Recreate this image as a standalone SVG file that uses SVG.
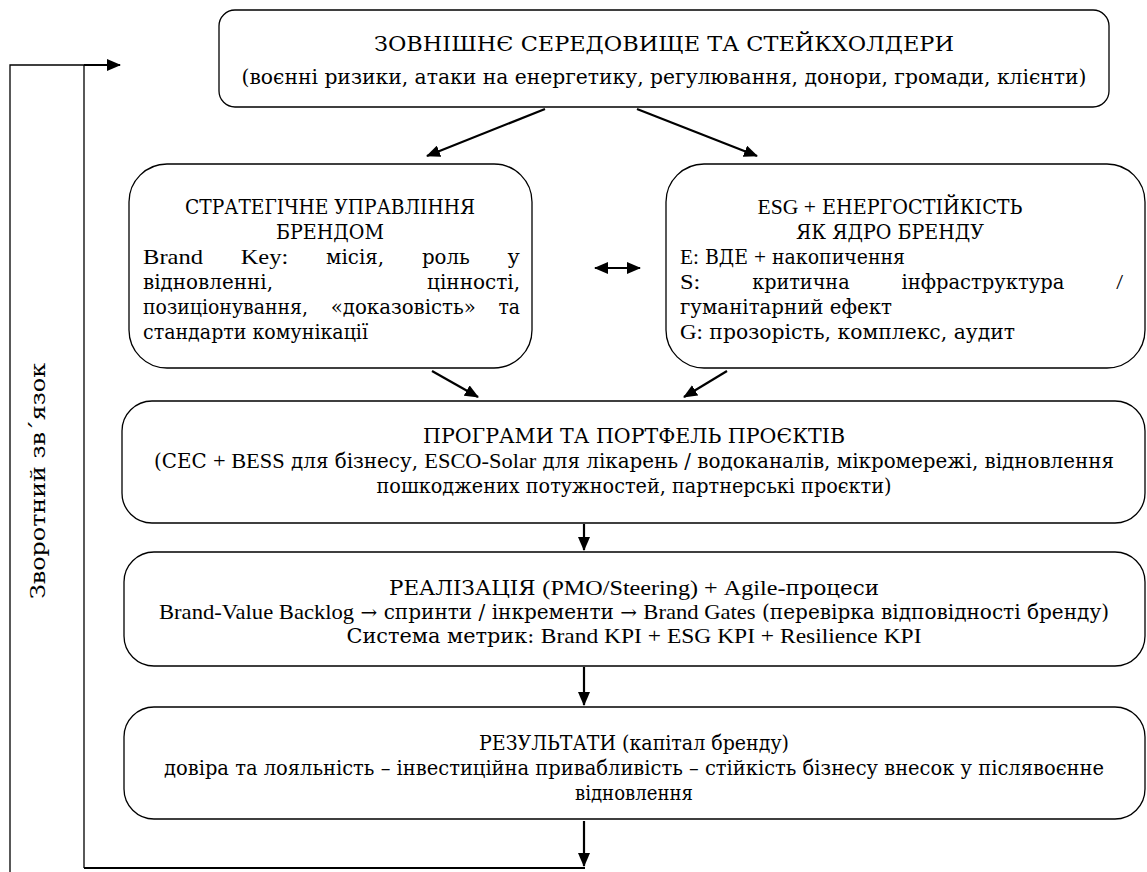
<svg xmlns="http://www.w3.org/2000/svg" width="1147" height="872" viewBox="0 0 1147 872">
<defs>
<marker id="ah" viewBox="0 0 14 12" refX="13" refY="6" markerWidth="14" markerHeight="12" orient="auto-start-reverse" markerUnits="userSpaceOnUse">
<path d="M0,0 L14,6 L0,12 z" fill="#000"/>
</marker>
<style>
.box{fill:#fff;stroke:#000;stroke-width:1.3}
.t{font-family:"DejaVu Serif","Liberation Serif",serif;font-size:19.5px;fill:#000}
.lt{font-family:"Liberation Serif","DejaVu Serif",serif;font-size:22px}
.c{text-anchor:middle}
.ln{stroke:#000;stroke-width:1.3;fill:none}
.ar{stroke:#000;stroke-width:2.2;fill:none;marker-end:url(#ah)}
</style>
</defs>
<rect width="1147" height="872" fill="#fff"/>
<g id="connectors">
<polyline class="ln" points="10,872 10,65 84,65 84,868"/>
<line class="ar" x1="84" y1="65" x2="120" y2="65"/>
<line class="ln" x1="84" y1="868" x2="585" y2="868" style="stroke-width:2.2"/>
<line class="ar" x1="545" y1="109" x2="427" y2="156"/>
<line class="ar" x1="637" y1="109" x2="757" y2="156"/>
<line class="ar" x1="595" y1="268" x2="640" y2="268" style="marker-start:url(#ah)"/>
<line class="ar" x1="432" y1="371" x2="478" y2="397"/>
<line class="ar" x1="727" y1="371" x2="684" y2="397"/>
<line class="ar" x1="584" y1="524" x2="584" y2="550"/>
<line class="ar" x1="584" y1="667" x2="584" y2="705"/>
<line class="ar" x1="584" y1="821" x2="584" y2="866"/>
<text class="t c" style="font-size:21px" transform="translate(45,481) rotate(-90)" textLength="236" lengthAdjust="spacingAndGlyphs">Зворотний зв´язок</text>
</g>
<g id="n1">
<rect class="box" x="219" y="10" width="890" height="97" rx="16"/>
<text class="t c" x="664" y="51" textLength="580" lengthAdjust="spacingAndGlyphs">ЗОВНІШНЄ СЕРЕДОВИЩЕ ТА СТЕЙКХОЛДЕРИ</text>
<text class="t c" x="664" y="84" textLength="845" lengthAdjust="spacingAndGlyphs">(воєнні ризики, атаки на енергетику, регулювання, донори, громади, клієнти)</text>
</g>
<g id="n2">
<rect class="box" x="129" y="164" width="403" height="204" rx="38"/>
<text class="t c" x="330" y="214" textLength="290" lengthAdjust="spacingAndGlyphs">СТРАТЕГІЧНЕ УПРАВЛІННЯ</text>
<text class="t c" x="330" y="239" textLength="108" lengthAdjust="spacingAndGlyphs">БРЕНДОМ</text>
<text class="t lt" x="143" y="264" textLength="60" lengthAdjust="spacingAndGlyphs">Brand</text>
<text class="t lt" x="240.7" y="264" textLength="47.6" lengthAdjust="spacingAndGlyphs">Key:</text>
<text class="t" x="326.1" y="264" textLength="58" lengthAdjust="spacingAndGlyphs">місія,</text>
<text class="t" x="421.9" y="264" textLength="47.9" lengthAdjust="spacingAndGlyphs">роль</text>
<text class="t" x="507.6" y="264" textLength="12.3" lengthAdjust="spacingAndGlyphs">у</text>
<text class="t" x="143" y="289" textLength="130" lengthAdjust="spacingAndGlyphs">відновленні,</text>
<text class="t" x="427.1" y="289" textLength="92.9" lengthAdjust="spacingAndGlyphs">цінності,</text>
<text class="t" x="143" y="314" textLength="165" lengthAdjust="spacingAndGlyphs">позиціонування,</text>
<text class="t" x="330.7" y="314" textLength="145.1" lengthAdjust="spacingAndGlyphs">«доказовість»</text>
<text class="t" x="498.4" y="314" textLength="21.6" lengthAdjust="spacingAndGlyphs">та</text>
<text class="t" x="143" y="339" textLength="225" lengthAdjust="spacingAndGlyphs">стандарти комунікації</text>
</g>
<g id="n3">
<rect class="box" x="666" y="164" width="479" height="204" rx="38"/>
<text class="t c" x="890" y="214" textLength="265" lengthAdjust="spacingAndGlyphs"><tspan class="lt">ESG +</tspan> ЕНЕРГОСТІЙКІСТЬ</text>
<text class="t c" x="890" y="239" textLength="188" lengthAdjust="spacingAndGlyphs">ЯК ЯДРО БРЕНДУ</text>
<text class="t" x="680" y="264" textLength="225" lengthAdjust="spacingAndGlyphs"><tspan class="lt">E:</tspan> ВДЕ <tspan class="lt">+</tspan> накопичення</text>
<text class="t lt" x="680" y="289" textLength="20.4" lengthAdjust="spacingAndGlyphs">S:</text>
<text class="t" x="752.2" y="289" textLength="97.4" lengthAdjust="spacingAndGlyphs">критична</text>
<text class="t" x="901.4" y="289" textLength="163" lengthAdjust="spacingAndGlyphs">інфраструктура</text>
<text class="t lt" x="1116.2" y="289" textLength="6.8" lengthAdjust="spacingAndGlyphs">/</text>
<text class="t" x="680" y="314" textLength="212" lengthAdjust="spacingAndGlyphs">гуманітарний ефект</text>
<text class="t" x="680" y="339" textLength="335" lengthAdjust="spacingAndGlyphs"><tspan class="lt">G:</tspan> прозорість, комплекс, аудит</text>
</g>
<g id="n4">
<rect class="box" x="122" y="401" width="1023" height="122" rx="30"/>
<text class="t c" x="634" y="443" textLength="422" lengthAdjust="spacingAndGlyphs">ПРОГРАМИ ТА ПОРТФЕЛЬ ПРОЄКТІВ</text>
<text class="t c" x="634" y="468" textLength="960" lengthAdjust="spacingAndGlyphs">(СЕС <tspan class="lt">+ BESS</tspan> для бізнесу, <tspan class="lt">ESCO-Solar</tspan> для лікарень / водоканалів, мікромережі, відновлення</text>
<text class="t c" x="634" y="493" textLength="515" lengthAdjust="spacingAndGlyphs">пошкоджених потужностей, партнерські проєкти)</text>
</g>
<g id="n5">
<rect class="box" x="124" y="552" width="1021" height="114" rx="30"/>
<text class="t c" x="634" y="595" textLength="490" lengthAdjust="spacingAndGlyphs">РЕАЛІЗАЦІЯ <tspan class="lt">(PMO/Steering) + Agile-</tspan>процеси</text>
<text class="t c" x="634" y="619" textLength="950" lengthAdjust="spacingAndGlyphs"><tspan class="lt">Brand-Value Backlog</tspan> → спринти / інкременти → <tspan class="lt">Brand Gates</tspan> (перевірка відповідності бренду)</text>
<text class="t c" x="634" y="643" textLength="575" lengthAdjust="spacingAndGlyphs">Система метрик: <tspan class="lt">Brand KPI + ESG KPI + Resilience KPI</tspan></text>
</g>
<g id="n6">
<rect class="box" x="124" y="707" width="1021" height="112" rx="30"/>
<text class="t c" x="634" y="750" textLength="310" lengthAdjust="spacingAndGlyphs">РЕЗУЛЬТАТИ (капітал бренду)</text>
<text class="t c" x="634" y="775" textLength="940" lengthAdjust="spacingAndGlyphs">довіра та лояльність – інвестиційна привабливість – стійкість бізнесу внесок у післявоєнне</text>
<text class="t c" x="634" y="800" textLength="118" lengthAdjust="spacingAndGlyphs">відновлення</text>
</g>
</svg>
